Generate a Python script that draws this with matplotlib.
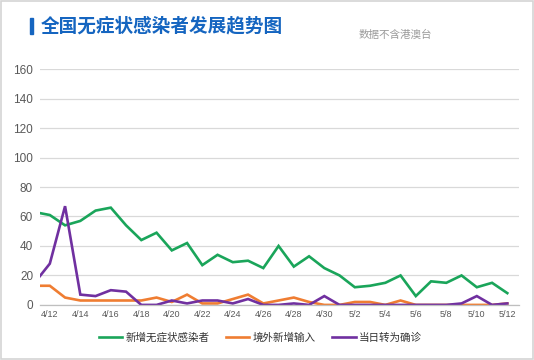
import numpy as np
import matplotlib
matplotlib.use("Agg")
import matplotlib.pyplot as plt
from matplotlib.patches import Rectangle

plt.rcParams["font.family"] = ["Liberation Sans", "Noto Sans CJK SC", "DejaVu Sans"]

# ── data (4/11 .. 5/12) ─────────────────────────────────────────────────────
dates = ["4/11", "4/12", "4/13", "4/14", "4/15", "4/16", "4/17", "4/18", "4/19", "4/20",
         "4/21", "4/22", "4/23", "4/24", "4/25", "4/26", "4/27", "4/28", "4/29", "4/30",
         "5/1", "5/2", "5/3", "5/4", "5/5", "5/6", "5/7", "5/8", "5/9", "5/10",
         "5/11", "5/12"]
new_asym = [63, 61, 54, 57, 64, 66, 54, 44, 49, 37,
            42, 27, 34, 29, 30, 25, 40, 26, 33, 25,
            20, 12, 13, 15, 20, 6, 16, 15, 20, 12,
            15, 8]
imported = [13, 13, 5, 3, 3, 3, 3, 3, 5, 2,
            7, 1, 1, 4, 7, 1, 3, 5, 2, 0,
            0, 2, 2, 0, 3, 0, 0, 0, 0, 0,
            0, 1]
to_confirmed = [15, 28, 67, 7, 6, 10, 9, 0, 0, 3,
                1, 3, 3, 1, 4, 0, 0, 1, 0, 6,
                0, 0, 0, 0, 0, 0, 0, 0, 1, 6,
                0, 1]
series_names = ["新增无症状感染者", "境外新增输入", "当日转为确诊"]
colors = ["#1aa55a", "#ef7d32", "#7030a0"]
yticks = [0, 20, 40, 60, 80, 100, 120, 140, 160]

x = np.arange(len(dates))

fig = plt.figure(figsize=(5.34, 3.6), dpi=100)
fig.patch.set_facecolor("white")
ax = fig.add_axes([0.075, 0.153, 0.897, 0.655])

for vals, name, c in zip([new_asym, imported, to_confirmed], series_names, colors):
    ax.plot(x, vals, color=c, linewidth=1.9, label=name, solid_joinstyle="miter")

ax.set_xlim(0.36, 31.77)
ax.set_ylim(0, 160)
ax.set_yticks(yticks)
ax.set_yticklabels([str(v) for v in yticks], fontsize=8.5, color="#595959")
ax.set_xticks(x[1::2])
ax.set_xticklabels(dates[1::2], fontsize=6.5, color="#595959")
ax.tick_params(length=0, pad=4)
ax.tick_params(axis="y", pad=5)
ax.yaxis.grid(True, color="#d9d9d9", linewidth=0.9)
ax.set_axisbelow(True)
for s in ["top", "right", "left"]:
    ax.spines[s].set_visible(False)
ax.spines["bottom"].set_color("#bfbfbf")
ax.spines["bottom"].set_linewidth(0.9)

leg = ax.legend(loc="center", bbox_to_anchor=(0.46, -0.14), ncol=3, frameon=False,
                prop={"family": ["Noto Sans CJK SC"], "size": 7.6},
                handlelength=2.2, handletextpad=0.3, columnspacing=1.6)
for t in leg.get_texts():
    t.set_color("#333333")

# title and note
fig.patches.append(Rectangle((30 / 534, 1 - 34 / 360), 3 / 534, 16 / 360,
                             transform=fig.transFigure, color="#1565c0"))
fig.text(41 / 534, 1 - 26 / 360, "全国无症状感染者发展趋势图", fontsize=13.4, fontweight="bold",
         color="#1565c0", family=["Noto Sans CJK SC"], va="center", ha="left")
fig.text(359 / 534, 1 - 35 / 360, "数据不含港澳台", fontsize=7.6, color="#9a9a9a",
         family=["Noto Sans CJK SC"], va="center", ha="left")

# frame around the card
fig.patches.append(Rectangle((0.001, 0.002), 0.997, 0.996, transform=fig.transFigure,
                             fill=False, edgecolor="#d4d4d4", linewidth=1.2))

fig.savefig("out.png", dpi=100)
